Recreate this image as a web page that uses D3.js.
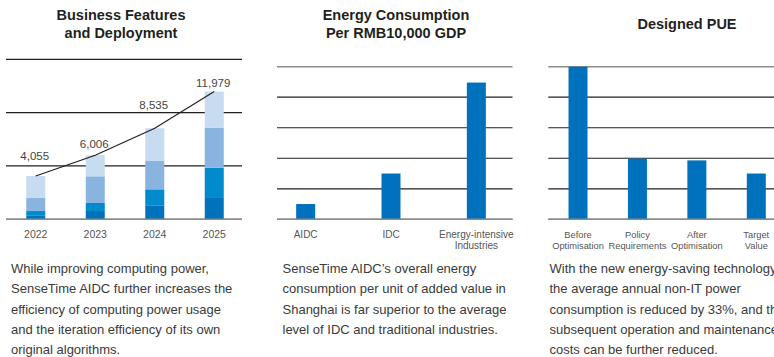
<!DOCTYPE html>
<html><head><meta charset="utf-8">
<script src="https://cdn.jsdelivr.net/npm/d3@7"></script>
<style>
body{margin:0;background:#fff;overflow:hidden}
text{font-family:"Liberation Sans",Arial,Helvetica,sans-serif}
</style>
</head><body>
<svg id="c" width="774" height="357"></svg>
<script>
// ---------- DATA ----------
const years = ["2022", "2023", "2024", "2025"];
const totals = [4055, 6006, 8535, 11979];
const segDark = [375, 780, 1310, 2000];
const segMid = [400, 750, 1500, 2840];
const segLightMid = [1220, 2500, 2700, 3750];
const segLight = [2060, 1976, 3025, 3389];
const bizTicks = [0, 5000, 10000, 15000];

const energyCats = [["AIDC"], ["IDC"], ["Energy-intensive", "Industries"]];
const energyValues = [0.5, 1.5, 4.48];
const energyTicks = [0, 1, 2, 3, 4, 5];

const pueCats = [["Before", "Optimisation"], ["Policy", "Requirements"], ["After", "Optimisation"], ["Target", "Value"]];
const pueValues = [5, 1.99, 1.93, 1.5];
const pueTicks = [0, 1, 2, 3, 4, 5];

const titles = [["Business Features", "and Deployment"], ["Energy Consumption", "Per RMB10,000 GDP"], ["Designed PUE"]];
const paragraphs = [
  ["While improving computing power,", "SenseTime AIDC further increases the", "efficiency of computing power usage", "and the iteration efficiency of its own", "original algorithms."],
  ["SenseTime AIDC\u2019s overall energy", "consumption per unit of added value in", "Shanghai is far superior to the average", "level of IDC and traditional industries."],
  ["With the new energy-saving technology,", "the average annual non-IT power", "consumption is reduced by 33%, and the", "subsequent operation and maintenance", "costs can be further reduced."]
];

// ---------- STYLE ----------
const C = {dark: "#0071bb", mid: "#008bcc", lightMid: "#8ab4e0", light: "#c7dbf1", bar: "#0071bc",
  gridDark: "#231f20", gridGray: "#8c8c8c", title: "#231f20", axisText: "#555", body: "#3a3a3a", valueText: "#444"};
const segColors = [C.dark, C.mid, C.lightMid, C.light];
const svg = d3.select("#c");
const baseY = 219.3;

function grid(g, y, ticks, x0, x1, grayTop) {
  g.selectAll("line.grid").data(ticks).join("line")
    .attr("x1", x0).attr("x2", x1)
    .attr("y1", d => y(d)).attr("y2", d => y(d))
    .attr("stroke", (d, i) => (i === 0 || (grayTop && i === ticks.length - 1)) ? C.gridGray : C.gridDark)
    .attr("stroke-width", (d, i) => (i === 0 || (grayTop && i === ticks.length - 1)) ? 1.6 : 1.2);
}

function catLabels(g, x, cats, size) {
  const t = g.selectAll("text.cat").data(cats).join("text")
    .attr("text-anchor", "middle").attr("font-size", size).attr("fill", C.axisText)
    .attr("x", (d, i) => x(i) + x.bandwidth() / 2).attr("y", 237.5);
  t.selectAll("tspan").data(d => d).join("tspan")
    .attr("x", function () { return d3.select(this.parentNode).attr("x"); })
    .attr("dy", (d, i) => i === 0 ? 0 : 11)
    .text(d => d);
}

// ---------- TITLES ----------
const titleX = [121, 396, 687];
titles.forEach((lines, k) => {
  const t = svg.append("text").attr("text-anchor", "middle").attr("font-weight", "bold")
    .attr("font-size", 14.5).attr("fill", C.title)
    .attr("y", lines.length === 1 ? 28.5 : 19.5);
  lines.forEach((l, i) => t.append("tspan").attr("x", titleX[k]).attr("dy", i ? 18.5 : 0).text(l));
});

// ---------- PARAGRAPHS ----------
const paraX = [11, 282.5, 549.5];
paragraphs.forEach((lines, k) => {
  const t = svg.append("text").attr("font-size", 13).attr("fill", C.body).attr("y", 273);
  lines.forEach((l, i) => t.append("tspan").attr("x", paraX[k]).attr("dy", i ? 20.3 : 0).text(l));
});

// ---------- CHART 1: stacked bars ----------
{
  const g = svg.append("g");
  const x = d3.scaleBand().domain(d3.range(years.length)).range([6, 244]);
  const y = d3.scaleLinear().domain([0, 15000]).range([baseY, 59.3]);
  grid(g, y, bizTicks, 6, 242, false);
  const rows = years.map((yr, i) => [segDark[i], segMid[i], segLightMid[i], segLight[i]]);
  const stack = d3.stack().keys([0, 1, 2, 3])(rows);
  const bw = 19;
  g.selectAll("g.layer").data(stack).join("g").attr("fill", (d, i) => segColors[i])
    .selectAll("rect").data(d => d).join("rect")
    .attr("x", (d, i) => x(i) + x.bandwidth() / 2 - bw / 2).attr("width", bw)
    .attr("y", d => y(d[1])).attr("height", d => y(d[0]) - y(d[1]));
  // redraw baseline on top
  g.append("line").attr("x1", 6).attr("x2", 242).attr("y1", y(0)).attr("y2", y(0))
    .attr("stroke", C.gridGray).attr("stroke-width", 1.6);
  const line = d3.line().x((d, i) => x(i) + x.bandwidth() / 2).y(d => y(d));
  g.append("path").datum(totals).attr("d", line).attr("fill", "none")
    .attr("stroke", C.gridDark).attr("stroke-width", 1.2);
  const labelDy = [-16, -7.5, -19, -4.5];
  g.selectAll("text.val").data(totals).join("text")
    .attr("text-anchor", "middle").attr("font-size", 11.5).attr("fill", C.valueText)
    .attr("x", (d, i) => x(i) + x.bandwidth() / 2 - 1)
    .attr("y", (d, i) => y(d) + labelDy[i])
    .text(d => d3.format(",")(d));
  g.selectAll("text.cat").data(years).join("text")
    .attr("text-anchor", "middle").attr("font-size", 10.5).attr("fill", C.axisText)
    .attr("x", (d, i) => x(i) + x.bandwidth() / 2).attr("y", 237.5).text(d => d);
}

// ---------- CHART 2: energy ----------
{
  const g = svg.append("g");
  const x = d3.scaleBand().domain(d3.range(energyCats.length)).range([263, 519]);
  const y = d3.scaleLinear().domain([0, 5]).range([baseY, 66.7]);
  grid(g, y, energyTicks, 277, 512.5, true);
  const bw = 19;
  g.selectAll("rect").data(energyValues).join("rect").attr("fill", C.bar)
    .attr("x", (d, i) => x(i) + x.bandwidth() / 2 - bw / 2).attr("width", bw)
    .attr("y", d => y(d)).attr("height", d => y(0) - y(d));
  g.append("line").attr("x1", 277).attr("x2", 512.5).attr("y1", y(0)).attr("y2", y(0))
    .attr("stroke", C.gridGray).attr("stroke-width", 1.6);
  catLabels(g, x, energyCats, 10);
}

// ---------- CHART 3: PUE ----------
{
  const g = svg.append("g");
  const x = d3.scaleBand().domain(d3.range(pueCats.length)).range([548.3, 786]);
  const y = d3.scaleLinear().domain([0, 5]).range([baseY, 66.7]);
  grid(g, y, pueTicks, 548.3, 790, true);
  const bw = 19;
  g.selectAll("rect").data(pueValues).join("rect").attr("fill", C.bar)
    .attr("x", (d, i) => x(i) + x.bandwidth() / 2 - bw / 2).attr("width", bw)
    .attr("y", d => y(d)).attr("height", d => y(0) - y(d));
  g.append("line").attr("x1", 548.3).attr("x2", 790).attr("y1", y(0)).attr("y2", y(0))
    .attr("stroke", C.gridGray).attr("stroke-width", 1.6);
  catLabels(g, x, pueCats, 9.3);
}
</script>
</body></html>
